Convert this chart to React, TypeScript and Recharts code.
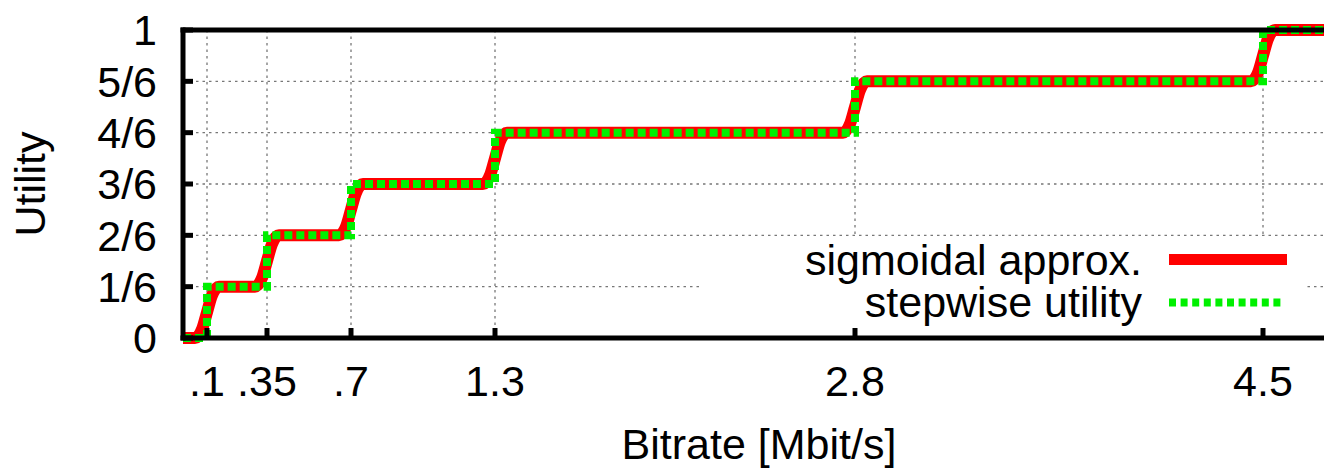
import React from 'react';
import { LineChart, Line, XAxis, YAxis, CartesianGrid, Legend } from 'recharts';

const xTicks = [0.1, 0.35, 0.7, 1.3, 2.8, 4.5];
const xTickLabels = ['.1', '.35', '.7', '1.3', '2.8', '4.5'];
const yTicks = [0, 1 / 6, 2 / 6, 3 / 6, 4 / 6, 5 / 6, 1];
const yTickLabels = ['0', '1/6', '2/6', '3/6', '4/6', '5/6', '1'];

const stepBitrate = [0, 0.1, 0.35, 0.7, 1.3, 2.8, 4.5, 4.8];
const stepUtility = [0, 1 / 6, 2 / 6, 3 / 6, 4 / 6, 5 / 6, 1, 1];

const sigmoidBitrate = [
  0, 0.05, 0.08, 0.1, 0.12, 0.15,
  0.3, 0.33, 0.35, 0.37, 0.4,
  0.65, 0.68, 0.7, 0.72, 0.75,
  1.25, 1.28, 1.3, 1.32, 1.35,
  2.75, 2.78, 2.8, 2.82, 2.85,
  4.45, 4.48, 4.5, 4.52, 4.55, 4.8,
];
const sigmoidUtility = [
  0, 0, 0.03, 0.0833, 0.1367, 0.1667,
  0.1667, 0.1967, 0.25, 0.3033, 0.3333,
  0.3333, 0.3633, 0.4167, 0.47, 0.5,
  0.5, 0.53, 0.5833, 0.6367, 0.6667,
  0.6667, 0.6967, 0.75, 0.8033, 0.8333,
  0.8333, 0.8633, 0.9167, 0.97, 1, 1,
];

const seriesNames = ['sigmoidal approx.', 'stepwise utility'];

const stepData = stepBitrate.map((x, i) => ({ x, y: stepUtility[i] }));
const sigmoidData = sigmoidBitrate.map((x, i) => ({ x, y: sigmoidUtility[i] }));

const FONT = '"Liberation Sans", Arial, Helvetica, sans-serif';
const FS = 43;
const RED = '#ff0000';
const GREEN = '#00f000';

const LegendBox = () => (
  <div style={{ position: 'relative', width: 605, height: 89, background: '#fff', fontFamily: FONT }}>
    <div style={{ position: 'absolute', right: 163, top: 5, fontSize: FS, lineHeight: '36px', color: '#000', whiteSpace: 'nowrap' }}>
      {seriesNames[0]}
    </div>
    <div style={{ position: 'absolute', right: 163, top: 46.5, fontSize: FS, lineHeight: '36px', color: '#000', whiteSpace: 'nowrap' }}>
      {seriesNames[1]}
    </div>
    <svg width={605} height={89} style={{ position: 'absolute', left: 0, top: 0 }}>
      <line x1={469} x2={587} y1={22.5} y2={22.5} stroke={RED} strokeWidth={11} />
      <line x1={469} x2={585} y1={65.5} y2={65.5} stroke={GREEN} strokeWidth={8} strokeDasharray="7 4.6" />
    </svg>
  </div>
);

const YTitle = (props: any) => {
  const vb = props && props.viewBox ? props.viewBox : { x: 0, y: 30, width: 183, height: 308 };
  const cx = vb.x + 30;
  const cy = vb.y + vb.height / 2;
  return (
    <text x={cx} y={cy} dy={15} transform={`rotate(-90 ${cx} ${cy})`} textAnchor="middle" fontSize={FS} fill="#000" style={{ fontFamily: FONT }}>
      Utility
    </text>
  );
};

const XTitle = (props: any) => {
  const vb = props && props.viewBox ? props.viewBox : { x: 183, y: 338, width: 1152, height: 130 };
  return (
    <text x={vb.x + vb.width / 2} y={vb.y + 121} textAnchor="middle" fontSize={FS} fill="#000" style={{ fontFamily: FONT }}>
      Bitrate [Mbit/s]
    </text>
  );
};

const axisLineStyle = { stroke: '#000', strokeWidth: 5, strokeLinecap: 'square' as const };
const tickLineStyle = { stroke: '#000', strokeWidth: 5 };
const noTick = () => <g />;

export default function App() {
  return (
    <div style={{ position: 'absolute', left: 0, top: 0, width: 1324, height: 468, overflow: 'hidden', background: '#fff', fontFamily: FONT }}>
      <LineChart width={1345} height={468} margin={{ top: 0, right: 0, bottom: 0, left: 0 }}>
        <CartesianGrid stroke="#777" strokeWidth={1.3} strokeDasharray="2.5 4" />
        <XAxis
          type="number"
          dataKey="x"
          domain={[0, 4.8]}
          ticks={xTicks}
          tickFormatter={(v: number) => xTickLabels[xTicks.indexOf(v)]}
          height={130}
          tickSize={-10}
          tickMargin={37}
          axisLine={axisLineStyle}
          tickLine={tickLineStyle}
          tick={{ fontSize: FS, fill: '#000' }}
          interval={0}
          allowDataOverflow
          label={XTitle}
        />
        <XAxis
          xAxisId="top"
          orientation="top"
          type="number"
          dataKey="x"
          domain={[0, 4.8]}
          ticks={xTicks}
          height={30}
          tickSize={-10}
          axisLine={axisLineStyle}
          tickLine={tickLineStyle}
          tick={noTick}
          interval={0}
        />
        <YAxis
          type="number"
          domain={[0, 1]}
          ticks={yTicks}
          tickFormatter={(v: number) => yTickLabels[yTicks.indexOf(v)]}
          width={183}
          tickSize={-10}
          tickMargin={36}
          axisLine={axisLineStyle}
          tickLine={tickLineStyle}
          tick={{ fontSize: FS, fill: '#000' }}
          interval={0}
          label={YTitle}
        />
        <YAxis
          yAxisId="right"
          orientation="right"
          type="number"
          domain={[0, 1]}
          ticks={yTicks}
          width={10}
          tickSize={-10}
          axisLine={axisLineStyle}
          tickLine={tickLineStyle}
          tick={noTick}
          interval={0}
        />
        <Legend
          layout="vertical"
          verticalAlign="middle"
          align="center"
          wrapperStyle={{ left: 700, top: 237, width: 605, height: 89 }}
          content={() => <LegendBox />}
        />
        <Line
          data={sigmoidData}
          dataKey="y"
          type="monotone"
          stroke={RED}
          strokeWidth={12}
          strokeLinejoin="round"
          dot={false}
          activeDot={false}
          isAnimationActive={false}
          name={seriesNames[0]}
        />
        <Line
          data={stepData}
          dataKey="y"
          type="stepAfter"
          stroke={GREEN}
          strokeWidth={8}
          strokeDasharray="8 4"
          dot={false}
          activeDot={false}
          isAnimationActive={false}
          name={seriesNames[1]}
        />
      </LineChart>
    </div>
  );
}
